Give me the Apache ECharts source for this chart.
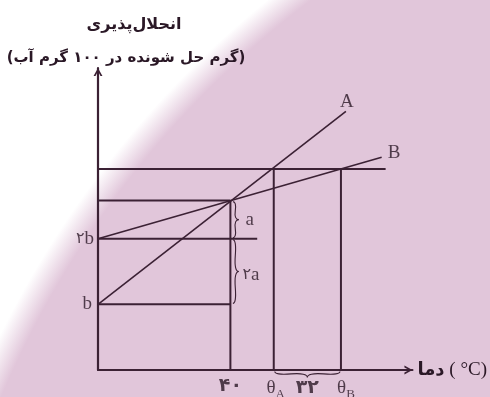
<!DOCTYPE html>
<html>
<head>
<meta charset="utf-8">
<script src="https://cdn.jsdelivr.net/npm/echarts@6/dist/echarts.min.js"></script>
<style>
  html, body { margin: 0; padding: 0; }
  #chart { width: 490px; height: 397px; }
</style>
</head>
<body>
<div id="chart"></div>
<script>
// values, b is taken as 1 on the y scale
const xMarks = [40, 53.1, 73.4];            // 40, θA, θB
const xMarkLabels = ['۴۰', 'θA', 'θB'];
const gapLabel = '۳۲';                      // θB - θA
const yMarks = [1, 2, 2.58, 3.06];          // b, 2b, meeting point, upper level
const yMarkLabels = ['b', '۲b'];
const levelEnds = [40, 48.1, 40, 86.9];     // where each level line stops
const lineA = [[0, 1], [74.9, 3.94]];
const lineB = [[0, 2], [85.7, 3.24]];
const X_MAX = 95, Y_MAX = 4.6;

const ink = '#3b2134';
const textColor = '#2a1826';
const serif = '"Liberation Serif", serif';
const persian = '"DejaVu Sans", sans-serif';

const chart = echarts.init(document.getElementById('chart'));

function seg(data, width) {
    return {
        type: 'line', data: data, symbol: 'none', silent: true, z: 3,
        lineStyle: { color: ink, width: width }
    };
}

// level lines and the three verticals
const segments = [];
yMarks.forEach((y, i) => segments.push(seg([[0, y], [levelEnds[i], y]], 2)));
segments.push(seg([[xMarks[0], 0], [xMarks[0], yMarks[2]]], 2));
segments.push(seg([[xMarks[1], 0], [xMarks[1], yMarks[3]]], 2));
segments.push(seg([[xMarks[2], 0], [xMarks[2], yMarks[3]]], 2));
segments.push(seg(lineA, 1.6));
segments.push(seg(lineB, 1.6));

// curly braces: [x1, y1, x2, y2] in data units
const braces = [
    [xMarks[0], yMarks[1], xMarks[0], yMarks[2]],
    [xMarks[0], yMarks[0], xMarks[0], yMarks[1]],
    [xMarks[1], 0, xMarks[2], 0]
];

function bracePath(x1, y1, x2, y2, w, q) {
    let dx = x1 - x2, dy = y1 - y2;
    const len = Math.sqrt(dx * dx + dy * dy);
    dx /= len; dy /= len;
    const qx1 = x1 + q * w * dy, qy1 = y1 - q * w * dx;
    const qx2 = (x1 - .25 * len * dx) + (1 - q) * w * dy, qy2 = (y1 - .25 * len * dy) - (1 - q) * w * dx;
    const tx = (x1 - .5 * len * dx) + w * dy, ty = (y1 - .5 * len * dy) - w * dx;
    const qx3 = x2 + q * w * dy, qy3 = y2 - q * w * dx;
    const qx4 = (x1 - .75 * len * dx) + (1 - q) * w * dy, qy4 = (y1 - .75 * len * dy) - (1 - q) * w * dx;
    return 'M' + x1 + ',' + y1 + ' Q' + qx1 + ',' + qy1 + ' ' + qx2 + ',' + qy2 +
        ' Q' + (2 * qx2 - qx1) + ',' + (2 * qy2 - qy1) + ' ' + tx + ',' + ty +
        ' M' + x2 + ',' + y2 + ' Q' + qx3 + ',' + qy3 + ' ' + qx4 + ',' + qy4 +
        ' Q' + (2 * qx4 - qx3) + ',' + (2 * qy4 - qy3) + ' ' + tx + ',' + ty;
}

const braceSeries = {
    type: 'custom', silent: true, z: 4,
    data: braces,
    encode: { x: [0, 2], y: [1, 3] },
    renderItem: function (params, api) {
        const p1 = api.coord([api.value(0), api.value(1)]);
        const p2 = api.coord([api.value(2), api.value(3)]);
        const vertical = Math.abs(p1[0] - p2[0]) < 1;
        let path;
        if (vertical) {
            path = bracePath(p1[0] + 2.5, p1[1] - 1, p2[0] + 2.5, p2[1] + 1, 6, 0.6);
        } else {
            path = bracePath(p1[0] + 1, p1[1] + 1.5, p2[0] - 1, p2[1] + 1.5, 6, 0.6);
        }
        return {
            type: 'path',
            shape: { pathData: path },
            style: { stroke: ink, fill: null, lineWidth: 1.1 }
        };
    }
};

function fmt(name) {
    if (name[0] === 'θ') return '{t|θ}{s|' + name.slice(1) + '}';
    if (/^[۰-۹]+$/.test(name)) return '{pb|' + name + '}';
    return name.replace(/([۰-۹]+)|([A-Za-z]+)/g, (m, d, l) => d ? '{pd|' + d + '}' : '{t|' + l + '}');
}

const labelItems = [
    { name: 'A', value: lineA[1], label: { position: 'top', distance: 0, offset: [1, 0] } },
    { name: 'B', value: lineB[1], label: { position: 'right', distance: 6, offset: [0, -4] } },
    { name: yMarkLabels[0], value: [0, yMarks[0]], label: { position: 'left', distance: 6 } },
    { name: yMarkLabels[1], value: [0, yMarks[1]], label: { position: 'left', distance: 4 } },
    { name: 'a', value: [xMarks[0], (yMarks[1] + yMarks[2]) / 2], label: { position: 'right', distance: 15 } },
    { name: '۲a', value: [xMarks[0], (yMarks[0] + yMarks[1]) / 2 - 0.05], label: { position: 'right', distance: 12 } },
    { name: xMarkLabels[0], value: [xMarks[0], 0], label: { position: 'bottom', distance: 7 } },
    { name: xMarkLabels[1], value: [xMarks[1], 0], label: { position: 'bottom', distance: 6, offset: [2, 0] } },
    { name: gapLabel, value: [(xMarks[1] + xMarks[2]) / 2, 0], label: { position: 'bottom', distance: 9 } },
    { name: xMarkLabels[2], value: [xMarks[2], 0], label: { position: 'bottom', distance: 6, offset: [5, 0] } }
];

const labelSeries = {
    type: 'scatter', silent: true, symbolSize: 0, z: 5,
    data: labelItems,
    label: {
        show: true,
        formatter: p => fmt(p.name),
        rich: {
            t: { fontFamily: serif, fontSize: 19, color: textColor },
            s: { fontFamily: serif, fontSize: 13, color: textColor, padding: [12, 0, 0, 0] },
            pd: { fontFamily: persian, fontSize: 16, color: textColor },
            pb: { fontFamily: persian, fontSize: 19, fontWeight: 'bold', color: textColor }
        }
    }
};

const arrow = 'path://M5,0 L10,9 L7.8,9 L5,3.6 L2.2,9 L0,9 Z';

chart.setOption({
    animation: false,
    backgroundColor: new echarts.graphic.RadialGradient(897, 777, 1000, [
        { offset: 0, color: '#e1c6da' },
        { offset: 0.973, color: '#e1c6da' },
        { offset: 1, color: '#ffffff' }
    ], true),
    graphic: [
        {
            type: 'text', x: 134, y: 25,
            style: { text: 'انحلال‌پذیری', font: 'bold 16px ' + persian, fill: textColor, align: 'center', verticalAlign: 'middle' }
        },
        {
            type: 'text', x: 126, y: 58,
            style: { text: '(گرم حل شونده در ۱۰۰ گرم آب)', font: 'bold 15px ' + persian, fill: textColor, align: 'center', verticalAlign: 'middle' }
        }
    ],
    grid: { left: 98, right: 76, top: 68, bottom: 27 },
    xAxis: {
        type: 'value', min: 0, max: X_MAX,
        splitLine: { show: false }, axisTick: { show: false }, axisLabel: { show: false },
        axisLine: { lineStyle: { color: ink, width: 2.2 }, symbol: ['none', arrow], symbolSize: [11, 8], symbolOffset: [0, -4] },
        name: '{p|دما}{l| ( °C)}', nameLocation: 'end', nameGap: 5,
        nameTextStyle: {
            align: 'left', verticalAlign: 'middle',
            rich: {
                p: { fontFamily: persian, fontSize: 18, fontWeight: 'bold', color: textColor },
                l: { fontFamily: serif, fontSize: 19, color: textColor }
            }
        }
    },
    yAxis: {
        type: 'value', min: 0, max: Y_MAX,
        splitLine: { show: false }, axisTick: { show: false }, axisLabel: { show: false },
        axisLine: { lineStyle: { color: ink, width: 2.2 }, symbol: ['none', arrow], symbolSize: [11, 8], symbolOffset: [0, -4] }
    },
    series: segments.concat([braceSeries, labelSeries])
});
</script>
</body>
</html>
